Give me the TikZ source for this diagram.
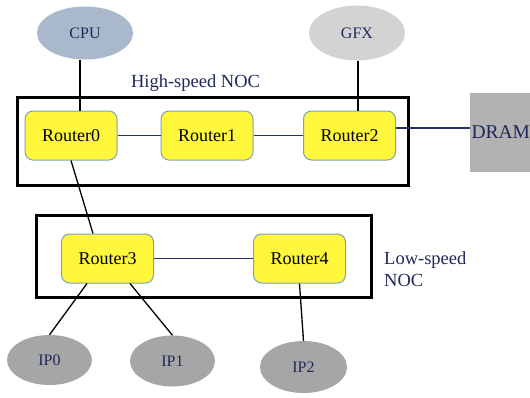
\documentclass[tikz,border=0pt]{standalone}
\usepackage{fontspec}
\setmainfont{Liberation Serif}
\usetikzlibrary{shapes.geometric,calc}
\definecolor{cpucol}{RGB}{170,184,204}
\definecolor{gfxcol}{RGB}{211,211,211}
\definecolor{ipcol}{RGB}{166,166,166}
\definecolor{dramcol}{RGB}{178,178,178}
\definecolor{routerfill}{RGB}{255,247,60}
\definecolor{routerborder}{RGB}{126,160,190}
\definecolor{navy}{RGB}{30,40,90}
\definecolor{navyline}{RGB}{40,50,100}
\tikzset{
  router/.style={draw=routerborder, line width=1pt, fill=routerfill, rounded corners=8pt,
    minimum width=92pt, minimum height=49pt, inner sep=0pt,
    font=\fontsize{18}{21}\selectfont},
  unit/.style={ellipse, draw=none, inner sep=0pt, text=navy,
    minimum width=#1, minimum height=53pt, font=\fontsize{16}{18}\selectfont},
  unit/.default=96pt,
  nocbox/.style={draw=black, line width=3pt, inner sep=0pt},
  noclabel/.style={text=navy, inner sep=0pt, font=\fontsize{18.5}{22}\selectfont, align=left},
  blackwire/.style={draw=black, line width=1.3pt},
  navywire/.style={draw=navyline, line width=1.3pt},
}
\begin{document}
\begin{tikzpicture}[x=1pt,y=-1pt]
\useasboundingbox (0,0) rectangle (530,397);
\clip (0,0) rectangle (530,397);
\fill[white] (0,0) rectangle (530,397);

% NOC frames
\node[nocbox, minimum width=391pt, minimum height=88pt] (hsbox) at (212.5,141) {};
\node[nocbox, minimum width=335pt, minimum height=82pt] (lsbox) at (203.5,256) {};
\node[noclabel] (hslabel) at (195.5,83) {High-speed NOC};
\node[noclabel, anchor=west] (lslabel) at (384,269) {Low-speed\\NOC};

% units
\node[unit, fill=cpucol] (cpu) at (85,33) {CPU};
\node[unit, fill=gfxcol, minimum height=55pt] (gfx) at (357,33) {GFX};
\node[unit=85pt, fill=ipcol, minimum height=50pt] (ip0) at (49.5,360) {IP0};
\node[unit=85pt, fill=ipcol, minimum height=51pt] (ip1) at (172.5,361) {IP1};
\node[unit=87pt, fill=ipcol, minimum height=52pt] (ip2) at (303.5,367) {IP2};
\node[fill=dramcol, minimum width=75pt, minimum height=79pt, inner sep=0pt,
      text width=72pt, align=left, text=navy, font=\fontsize{19.5}{22}\selectfont] (dram) at (507.5,132.5) {DRAM};

% routers
\node[router] (r0) at (71,135.5) {Router0};
\node[router] (r1) at (207,135.5) {Router1};
\node[router] (r2) at (349.5,135.5) {Router2};
\node[router] (r3) at (107.5,258.5) {Router3};
\node[router] (r4) at (299.5,258.5) {Router4};

% connectors
\draw[blackwire] ([xshift=-5pt]cpu.south) -- ([xshift=9pt]r0.north);
\draw[blackwire] ([xshift=1pt]gfx.south) -- ([xshift=8.5pt]r2.north);
\draw[navywire] (r0.east) -- (r1.west);
\draw[navywire] (r1.east) -- (r2.west);
\draw[navywire] ([yshift=7.5pt]r2.east) -- ([yshift=4.5pt]dram.west);
\draw[blackwire] (r0.south) -- ([xshift=-14.5pt]r3.north);
\draw[navywire] (r3.east) -- (r4.west);
\draw[blackwire] ([xshift=-20.5pt]r3.south) -- (ip0.north);
\draw[blackwire] ([xshift=22.5pt]r3.south) -- (ip1.north);
\draw[blackwire] (r4.south) -- (ip2.north);
\end{tikzpicture}
\end{document}
